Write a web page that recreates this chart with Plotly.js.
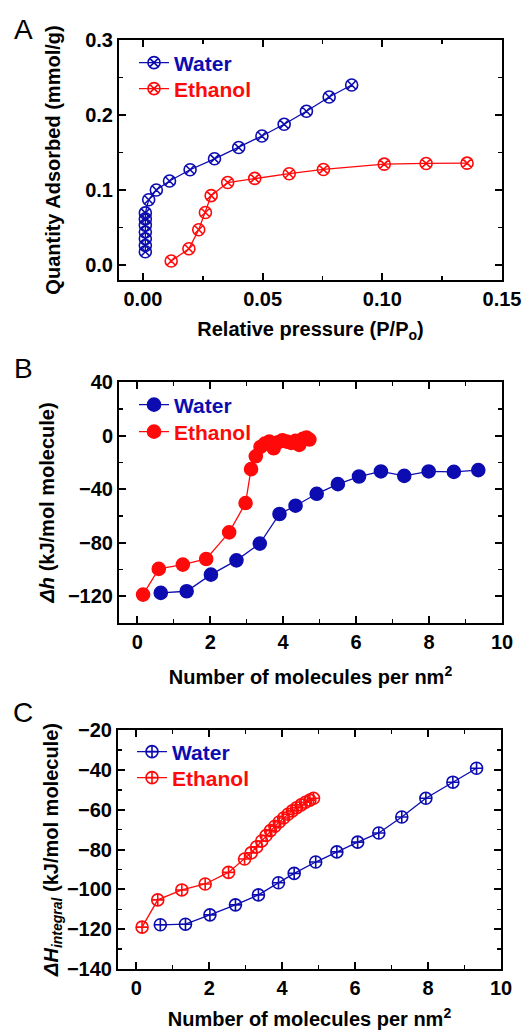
<!DOCTYPE html>
<html><head><meta charset="utf-8">
<script src="https://cdn.plot.ly/plotly-3.0.1.min.js"></script>
<style>body{margin:0;padding:0;background:#fff}#chart{width:523px;height:1030px}</style>
</head><body><div id="chart"></div>
<script>
// Panel A: adsorption isotherms
const waterA_x = [0.001, 0.001, 0.001, 0.001, 0.001, 0.001, 0.001, 0.0024, 0.0056, 0.0111, 0.0197, 0.0299, 0.0400, 0.0497, 0.0590, 0.0683, 0.0778, 0.0872];
const waterA_y = [0.0177, 0.026, 0.035, 0.044, 0.053, 0.0615, 0.0695, 0.087, 0.100, 0.112, 0.127, 0.1416, 0.1566, 0.172, 0.1876, 0.205, 0.224, 0.240];
const ethA_x = [0.0118, 0.0192, 0.0233, 0.0261, 0.0285, 0.0354, 0.0467, 0.0611, 0.0754, 0.1008, 0.1183, 0.1354];
const ethA_y = [0.0053, 0.0217, 0.047, 0.070, 0.0925, 0.110, 0.1155, 0.1217, 0.1274, 0.1345, 0.1354, 0.1358];

// Panel B: differential enthalpy
const waterB_x = [0.645, 1.355, 2.02, 2.72, 3.36, 3.90, 4.34, 4.92, 5.50, 6.08, 6.68, 7.32, 7.99, 8.68, 9.35];
const waterB_y = [-117.5, -116.3, -103.9, -93.2, -80.7, -58.6, -52.4, -43.5, -36.3, -30.6, -26.8, -30.1, -26.8, -27.1, -25.8];
const ethB_x = [0.16, 0.59, 1.25, 1.89, 2.52, 2.97, 3.12, 3.25, 3.38, 3.50, 3.62, 3.74, 3.86, 3.98, 4.10, 4.22, 4.34, 4.44, 4.54, 4.64, 4.72];
const ethB_y = [-118.8, -99.6, -96.4, -92.2, -72.3, -50.4, -25.1, -15.5, -8.5, -6, -4.5, -9.5, -5, -3.5, -4.5, -5.5, -4, -7, -2.5, -1.5, -3];

// Panel C: integral enthalpy
const waterC_x = [0.66, 1.35, 2.02, 2.72, 3.35, 3.90, 4.33, 4.92, 5.50, 6.07, 6.65, 7.28, 7.94, 8.68, 9.33];
const waterC_y = [-117.8, -117.5, -112.8, -107.8, -102.8, -96.7, -92, -86.3, -81.2, -76.3, -71.7, -63.7, -54.3, -46.2, -39.2];
const ethC_x = [0.16, 0.59, 1.25, 1.89, 2.53, 2.97, 3.15, 3.30, 3.44, 3.56, 3.68, 3.80, 3.92, 4.04, 4.16, 4.28, 4.40, 4.52, 4.64, 4.76, 4.86];
const ethC_y = [-119, -105.3, -100.3, -97.3, -91.5, -84.8, -81.7, -78.7, -75.7, -73, -70.5, -68.3, -66.2, -64.2, -62.3, -60.6, -59, -57.6, -56.3, -55.2, -54.3];

const seriesNames = ['Water', 'Ethanol'];
const panelLabels = ['A', 'B', 'C'];

const BLUE = '#0c0cb0', RED = '#ff0a0a';
const FAM = '"Liberation Sans", Arial, sans-serif';

function nm(name, col) { return '<span style="color:' + col + '"><b>' + name + '</b></span>'; }

function tr(x, y, col, sym, size, xa, ya, leg, name) {
  return {
    x: x, y: y, type: 'scatter', mode: 'lines+markers', name: nm(name, col),
    xaxis: xa, yaxis: ya, legend: leg,
    line: {color: col, width: 1.3},
    marker: {symbol: sym, size: size, color: col, line: {color: col, width: 1.6}}
  };
}

const data = [
  tr(waterA_x, waterA_y, BLUE, 'circle-x-open', 12, 'x', 'y', 'legend', seriesNames[0]),
  tr(ethA_x, ethA_y, RED, 'circle-x-open', 12, 'x', 'y', 'legend2', seriesNames[1]),
  tr(waterB_x, waterB_y, BLUE, 'circle', 13, 'x2', 'y2', 'legend3', seriesNames[0]),
  tr(ethB_x, ethB_y, RED, 'circle', 13, 'x2', 'y2', 'legend4', seriesNames[1]),
  tr(waterC_x, waterC_y, BLUE, 'circle-cross-open', 12, 'x3', 'y3', 'legend5', seriesNames[0]),
  tr(ethC_x, ethC_y, RED, 'circle-cross-open', 12, 'x3', 'y3', 'legend6', seriesNames[1])
];

const W = 523, H = 1030;
function dx(a, b) { return [a / W, b / W]; }
function dy(top, bot) { return [1 - bot / H, 1 - top / H]; }

function axis(extra) {
  return Object.assign({
    showline: true, linewidth: 2, linecolor: '#000', mirror: 'ticks',
    ticks: 'inside', ticklen: 7, tickwidth: 2, tickcolor: '#000',
    showgrid: false, zeroline: false,
    tickfont: {family: FAM, size: 20, color: '#000', weight: 'bold'},
    automargin: false
  }, extra);
}
const titleFont = {family: FAM, size: 20, color: '#000', weight: 'bold'};

function leg(px, py) {
  return {x: px / W, y: 1 - py / H, xanchor: 'left', yanchor: 'middle', bgcolor: 'rgba(0,0,0,0)',
    borderwidth: 0, font: {family: FAM, size: 21}, itemsizing: 'trace'};
}

const layout = {
  width: W, height: H,
  margin: {l: 0, r: 0, t: 0, b: 0},
  paper_bgcolor: '#fff', plot_bgcolor: '#fff',
  font: {family: FAM},
  xaxis: axis({domain: dx(119, 502), range: [-0.01, 0.15], dtick: 0.05, tickformat: '.2f',
    minor: {ticks: 'inside', ticklen: 4, tickwidth: 1.5, dtick: 0.025, tickcolor: '#000'},
    anchor: 'y', title: {text: 'Relative pressure (P/P<sub>o</sub>)', font: titleFont, standoff: 13}}),
  yaxis: axis({domain: dy(40, 280), range: [-0.02, 0.3], dtick: 0.1, tickformat: '.1f',
    minor: {ticks: 'inside', ticklen: 4, tickwidth: 1.5, dtick: 0.05, tickcolor: '#000'},
    anchor: 'x', title: {text: 'Quantity Adsorbed (mmol/g)', font: titleFont, standoff: 19}}),
  xaxis2: axis({domain: dx(119, 502), range: [-0.5, 10], dtick: 2,
    minor: {ticks: 'inside', ticklen: 4, tickwidth: 1.5, dtick: 1, tickcolor: '#000'},
    anchor: 'y2', title: {text: 'Number of molecules per nm<sup>2</sup>', font: titleFont, standoff: 18}}),
  yaxis2: axis({domain: dy(382, 623), range: [-140, 40], dtick: 40,
    minor: {ticks: 'inside', ticklen: 4, tickwidth: 1.5, dtick: 20, tickcolor: '#000'},
    anchor: 'x2', title: {text: '<i>Δh</i> (kJ/mol molecule)', font: titleFont, standoff: 8}}),
  xaxis3: axis({domain: dx(118, 501), range: [-0.5, 10], dtick: 2,
    minor: {ticks: 'inside', ticklen: 4, tickwidth: 1.5, dtick: 1, tickcolor: '#000'},
    anchor: 'y3', title: {text: 'Number of molecules per nm<sup>2</sup>', font: titleFont, standoff: 19}}),
  yaxis3: axis({domain: dy(730, 969), range: [-140, -20], dtick: 20,
    minor: {ticks: 'inside', ticklen: 4, tickwidth: 1.5, dtick: 10, tickcolor: '#000'},
    anchor: 'x3', title: {text: '<i>ΔH</i><sub><i>integral</i></sub> (kJ/mol molecule)', font: titleFont, standoff: 3}}),
  legend: leg(134, 63),
  legend2: leg(134, 89),
  legend3: leg(134, 405),
  legend4: leg(134, 432),
  legend5: leg(132, 752),
  legend6: leg(132, 778),
  annotations: [
    {text: panelLabels[0], x: 23 / W, y: 1 - 30 / H},
    {text: panelLabels[1], x: 23 / W, y: 1 - 368 / H},
    {text: panelLabels[2], x: 23 / W, y: 1 - 712 / H}
  ].map(a => Object.assign(a, {xref: 'paper', yref: 'paper', showarrow: false,
    xanchor: 'center', yanchor: 'middle', font: {family: FAM, size: 28, color: '#000'}})),
  showlegend: true
};

Plotly.newPlot('chart', data, layout, {staticPlot: true, displayModeBar: false});
</script></body></html>
